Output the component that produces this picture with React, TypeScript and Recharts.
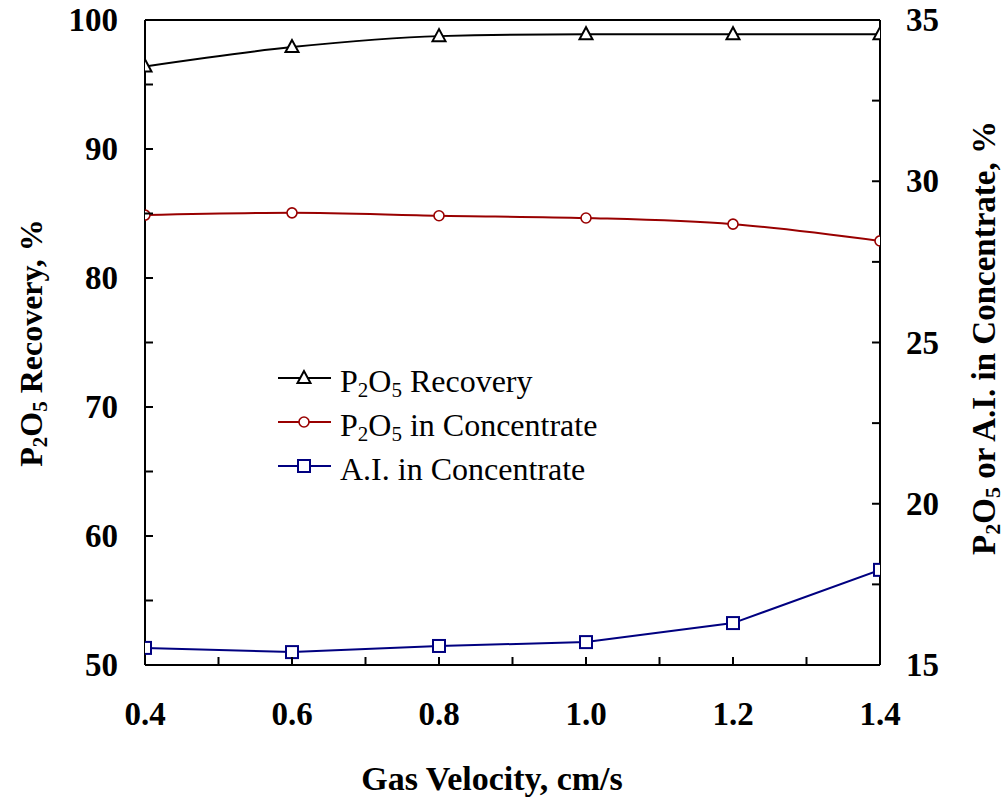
import { LineChart, Line, XAxis, YAxis, ReferenceLine, Legend } from 'recharts';

const SERIF = '"Liberation Serif", "Times New Roman", serif';

// gas velocity, cm/s
const velocity = [0.4, 0.6, 0.8, 1.0, 1.2, 1.4];
// P2O5 recovery, % (left axis)
const recovery = [96.4, 97.9, 98.75, 98.9, 98.9, 98.9];
// P2O5 and acid-insoluble grade in concentrate, % (right axis)
const p2o5Conc = [28.95, 29.02, 28.93, 28.86, 28.67, 28.15];
const aiConc = [15.53, 15.4, 15.59, 15.71, 16.3, 17.95];

const xTicks = [0.4, 0.5, 0.6, 0.7, 0.8, 0.9, 1.0, 1.1, 1.2, 1.3, 1.4];
const leftTicks = [50, 55, 60, 65, 70, 75, 80, 85, 90, 95, 100];
const rightTicks = [15, 17.5, 20, 22.5, 25, 27.5, 30, 32.5, 35];

const data = velocity.map((v, i) => ({
  v,
  recovery: recovery[i],
  p2o5: p2o5Conc[i],
  ai: aiConc[i],
}));

const RED = '#990000';
const NAVY = '#000080';
const TICK_LEN = 8;

interface TickProps {
  x?: number;
  y?: number;
  payload?: { value: number };
}

function XTick({ x = 0, y = 0, payload }: TickProps) {
  const v = payload ? payload.value : 0;
  const major = Math.round(v * 10) % 2 === 0;
  return (
    <g>
      <line x1={x} y1={y} x2={x} y2={y - TICK_LEN} stroke="#000" strokeWidth={2} />
      {major && (
        <text x={x} y={y + 60} textAnchor="middle" fontFamily={SERIF} fontWeight="bold" fontSize={33} fill="#000">
          {v.toFixed(1)}
        </text>
      )}
    </g>
  );
}

function LeftTick({ x = 0, y = 0, payload }: TickProps) {
  const v = payload ? payload.value : 0;
  return (
    <g>
      <line x1={x} y1={y} x2={x + TICK_LEN} y2={y} stroke="#000" strokeWidth={2} />
      {v % 10 === 0 && (
        <text x={x - 27} y={y + 11} textAnchor="end" fontFamily={SERIF} fontWeight="bold" fontSize={33} fill="#000">
          {v}
        </text>
      )}
    </g>
  );
}

function RightTick({ x = 0, y = 0, payload }: TickProps) {
  const v = payload ? payload.value : 0;
  return (
    <g>
      <line x1={x} y1={y} x2={x - TICK_LEN} y2={y} stroke="#000" strokeWidth={2} />
      {v % 5 === 0 && (
        <text x={x + 26} y={y + 11} textAnchor="start" fontFamily={SERIF} fontWeight="bold" fontSize={33} fill="#000">
          {v}
        </text>
      )}
    </g>
  );
}

interface DotProps {
  cx?: number;
  cy?: number;
  index?: number;
}

function Triangle({ cx = 0, cy = 0 }: DotProps) {
  const h = 12;
  const w = 13;
  return (
    <polygon
      points={`${cx},${cy - h / 2 - 1} ${cx - w / 2},${cy + h / 2 - 1} ${cx + w / 2},${cy + h / 2 - 1}`}
      fill="#fff"
      stroke="#000"
      strokeWidth={2}
    />
  );
}

function Circle({ cx = 0, cy = 0 }: DotProps) {
  return <circle cx={cx} cy={cy} r={5} fill="#fff" stroke={RED} strokeWidth={1.6} />;
}

function Square({ cx = 0, cy = 0 }: DotProps) {
  const s = 12;
  return <rect x={cx - s / 2} y={cy - s / 2} width={s} height={s} fill="#fff" stroke={NAVY} strokeWidth={2} />;
}

// "P" + subscript 2 + "O" + subscript 5
function P2O5({ size }: { size: number }) {
  const sub = Math.round(size * 0.66);
  const d = Math.round(size * 0.16);
  return (
    <>
      <tspan>P</tspan>
      <tspan fontSize={sub} dy={d}>2</tspan>
      <tspan dy={-d}>O</tspan>
      <tspan fontSize={sub} dy={d}>5</tspan>
      <tspan dy={-d}> </tspan>
    </>
  );
}

const legendRows = [
  { key: 'recovery', color: '#000', marker: Triangle, label: 'Recovery', p2o5: true },
  { key: 'p2o5', color: RED, marker: Circle, label: 'in Concentrate', p2o5: true },
  { key: 'ai', color: NAVY, marker: Square, label: 'A.I. in Concentrate', p2o5: false },
];

function ChartLegend() {
  return (
    <svg width={1005} height={798} style={{ position: 'absolute', left: 0, top: 0, pointerEvents: 'none' }}>
      {legendRows.map((row, i) => {
        const y = 378 + i * 44;
        const M = row.marker;
        return (
          <g key={row.key}>
            <line x1={278} y1={y} x2={331} y2={y} stroke={row.color} strokeWidth={2} />
            <M cx={304} cy={y} />
            <text x={340} y={y + 14} fontFamily={SERIF} fontSize={32} fill="#000">
              {row.p2o5 && <P2O5 size={32} />}
              <tspan>{row.label}</tspan>
            </text>
          </g>
        );
      })}
    </svg>
  );
}

function AxisTitles() {
  return (
    <svg width={1005} height={798} style={{ position: 'absolute', left: 0, top: 0, pointerEvents: 'none' }}>
      <text x={492} y={790} textAnchor="middle" fontFamily={SERIF} fontWeight="bold" fontSize={34} fill="#000">
        Gas Velocity, cm/s
      </text>
      <text
        transform="translate(42,343) rotate(-90)"
        textAnchor="middle"
        fontFamily={SERIF}
        fontWeight="bold"
        fontSize={32}
        fill="#000"
      >
        <P2O5 size={32} />
        <tspan>Recovery, %</tspan>
      </text>
      <text
        transform="translate(995,338) rotate(-90)"
        textAnchor="middle"
        fontFamily={SERIF}
        fontWeight="bold"
        fontSize={33}
        fill="#000"
      >
        <P2O5 size={33} />
        <tspan>or A.I. in Concentrate, %</tspan>
      </text>
    </svg>
  );
}

export default function App() {
  return (
    <div style={{ position: 'absolute', left: 0, top: 0, width: 1005, height: 798, background: '#fff' }}>
      <LineChart width={1005} height={798} data={data} margin={{ top: 20, right: 0, bottom: 0, left: 0 }}>
        <XAxis
          dataKey="v"
          type="number"
          domain={[0.4, 1.4]}
          ticks={xTicks}
          interval={0}
          height={133}
          tickSize={0}
          tickMargin={0}
          tickLine={false}
          axisLine={{ stroke: '#000', strokeWidth: 2 }}
          tick={<XTick />}
          allowDataOverflow
        />
        <YAxis
          yAxisId="left"
          orientation="left"
          domain={[50, 100]}
          ticks={leftTicks}
          interval={0}
          width={145}
          tickSize={0}
          tickMargin={0}
          tickLine={false}
          axisLine={{ stroke: '#000', strokeWidth: 2 }}
          tick={<LeftTick />}
          allowDataOverflow
        />
        <YAxis
          yAxisId="right"
          orientation="right"
          domain={[15, 35]}
          ticks={rightTicks}
          interval={0}
          width={125}
          tickSize={0}
          tickMargin={0}
          tickLine={false}
          axisLine={{ stroke: '#000', strokeWidth: 2 }}
          tick={<RightTick />}
          allowDataOverflow
        />
        <ReferenceLine yAxisId="left" y={100} stroke="#000" strokeWidth={2} />
        <Line
          yAxisId="left"
          type="monotone"
          dataKey="recovery"
          stroke="#000"
          strokeWidth={2}
          dot={<Triangle />}
          activeDot={false}
          isAnimationActive={false}
        />
        <Line
          yAxisId="right"
          type="monotone"
          dataKey="p2o5"
          stroke={RED}
          strokeWidth={2}
          dot={<Circle />}
          activeDot={false}
          isAnimationActive={false}
        />
        <Line
          yAxisId="right"
          type="linear"
          dataKey="ai"
          stroke={NAVY}
          strokeWidth={2}
          dot={<Square />}
          activeDot={false}
          isAnimationActive={false}
        />
        <Legend content={() => null} />
      </LineChart>
      <ChartLegend />
      <AxisTitles />
    </div>
  );
}
